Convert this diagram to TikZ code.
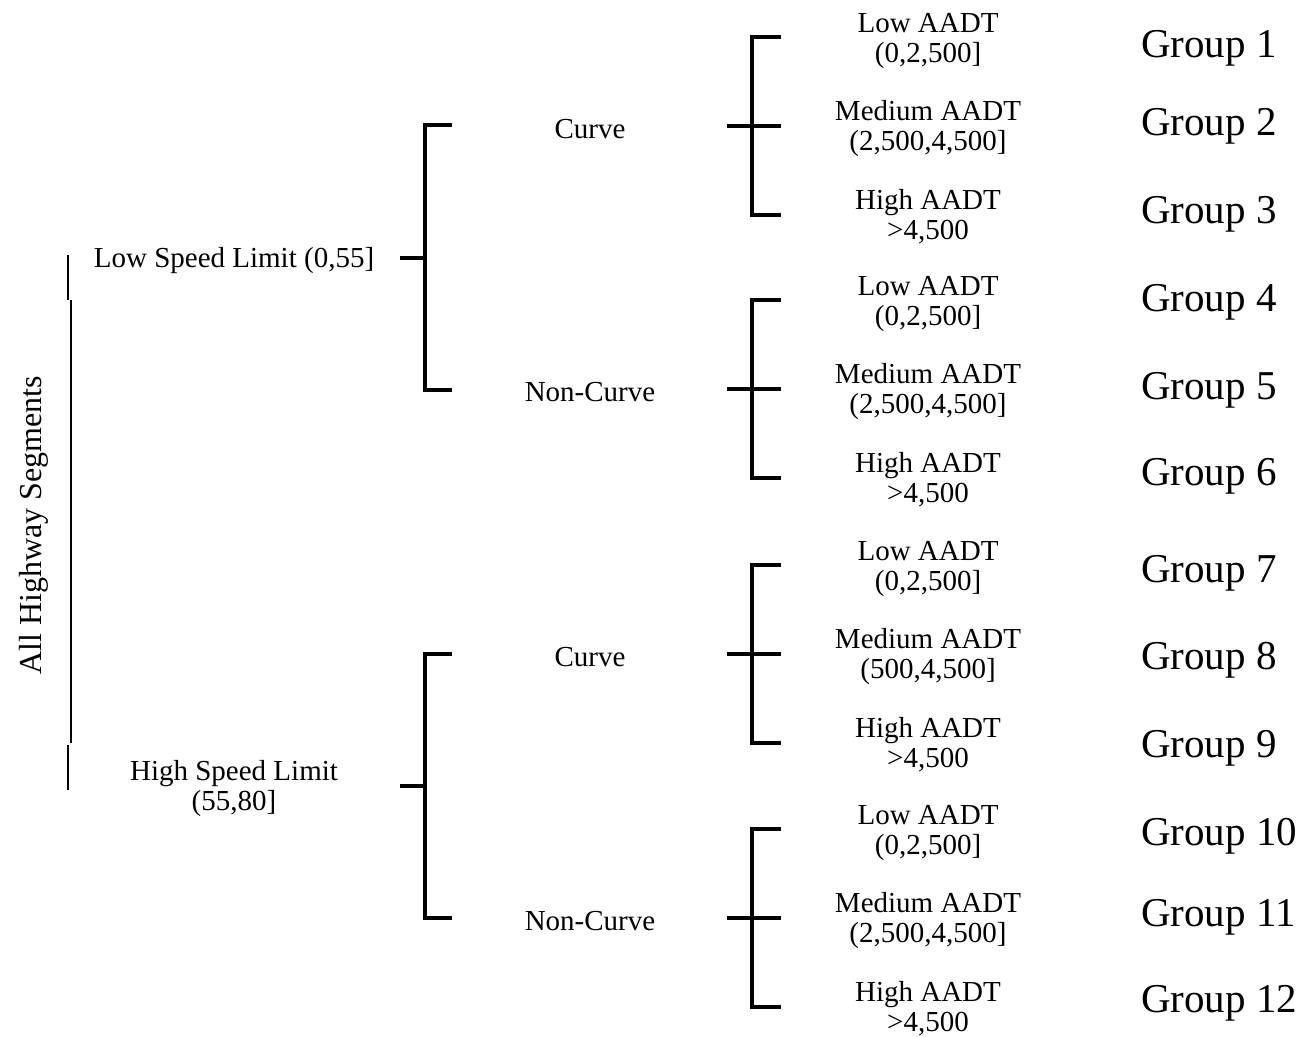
\documentclass[tikz,border=0pt]{standalone}
\usepackage{fontspec}
\setmainfont{Liberation Serif}
\begin{document}
\begin{tikzpicture}[x=1pt,y=-1pt,
  txt/.style={font=\fontsize{29}{30}\selectfont, align=center, inner sep=0pt, yshift=-3pt},
  grp/.style={font=\fontsize{41}{41}\selectfont, inner sep=0pt, anchor=west, yshift=-3pt},
  alltxt/.style={font=\fontsize{32}{32}\selectfont, inner sep=0pt, rotate=90},
  brk/.style={line width=4pt},
  thinline/.style={line width=1.2pt},
  midline/.style={line width=2.4pt}]
\useasboundingbox (0,0) rectangle (1308,1036);

% root
\node[alltxt] (all) at (34,525) {All Highway Segments};
\draw[thinline] (68,255) -- (68,300);
\draw[midline] (71,300) -- (71,743);
\draw[thinline] (68,745) -- (68,790);

% speed level
\node[txt] (low) at (234,258) {Low Speed Limit (0,55]};
\node[txt] (high) at (234,786) {High Speed Limit\\(55,80]};

% curve level
\node[txt] (c1) at (590,126) {Curve};
\node[txt] (n1) at (590,389) {Non-Curve};
\node[txt] (c2) at (590,654) {Curve};
\node[txt] (n2) at (590,918) {Non-Curve};

% level-1 brackets
\foreach \c/\t/\b in {258/125/390, 786/654/918}{
  \draw[brk] (400,\c) -- (425,\c);
  \draw[brk] (452,\t) -- (425,\t) -- (425,\b) -- (452,\b);
}

% level-2 brackets and AADT labels
\foreach \c/\k in {126/1, 389/2, 654/3, 918/4}{
  \draw[brk] (727,\c) -- (781,\c);
  \draw[brk] (781,\c-89) -- (752,\c-89) -- (752,\c+89) -- (781,\c+89);
  \node[txt] (lo\k) at (928,\c-88) {Low AADT\\(0,2,500]};
  \node[txt] (hi\k) at (928,\c+88) {High AADT\\>4,500};
}
\node[txt] (me1) at (928,126) {Medium AADT\\(2,500,4,500]};
\node[txt] (me2) at (928,389) {Medium AADT\\(2,500,4,500]};
\node[txt] (me3) at (928,654) {Medium AADT\\(500,4,500]};
\node[txt] (me4) at (928,918) {Medium AADT\\(2,500,4,500]};

% groups
\foreach \y [count=\i] in {45,123,211,299,387,473,570,657,745,833,914,1000}{
  \node[grp] (g\i) at (1141,\y) {Group \i};
}
\end{tikzpicture}
\end{document}
